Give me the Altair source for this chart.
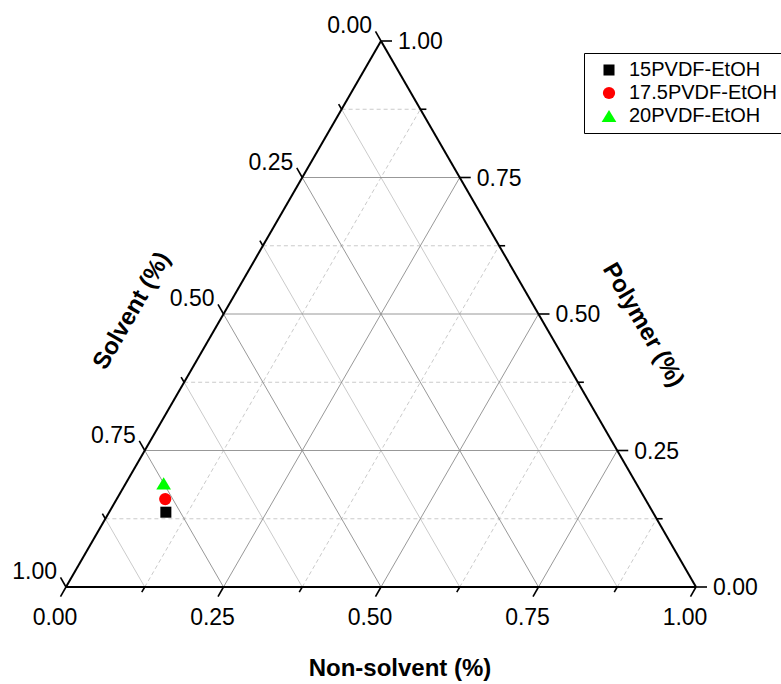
import altair as alt
import numpy as np
import pandas as pd

# ---------------- data ----------------
series = ["15PVDF-EtOH", "17.5PVDF-EtOH", "20PVDF-EtOH"]
polymer = [0.137, 0.161, 0.190]
non_solvent = [0.090, 0.077, 0.060]
solvent = [round(1 - p - n, 3) for p, n in zip(polymer, non_solvent)]

colors = ["#000000", "#ff0000", "#00ff00"]
shapes = ["M-0.9,-0.9L0.9,-0.9L0.9,0.9L-0.9,0.9Z", "circle", "M0,-1L1.2,1L-1.2,1Z"]

major_ticks = [0.0, 0.25, 0.5, 0.75, 1.0]
minor_ticks = [0.125, 0.375, 0.625, 0.875]
tick_labels = ["0.00", "0.25", "0.50", "0.75", "1.00"]
axis_titles = ["Non-solvent (%)", "Solvent (%)", "Polymer (%)"]

# ---------------- geometry helpers ----------------
H = np.sqrt(3) / 2
W_PX = 630
HT_PX = 546
U = 1.0 / W_PX  # data units per pixel
FONT = "Liberation Sans"

XS = alt.Scale(domain=[0, 1], nice=False, zero=False)
YS = alt.Scale(domain=[0, H], nice=False, zero=False)


def enc_xy(extra2=True):
    d = dict(x=alt.X("x:Q", scale=XS, axis=None), y=alt.Y("y:Q", scale=YS, axis=None))
    if extra2:
        d["x2"] = alt.X2("x2:Q")
        d["y2"] = alt.Y2("y2:Q")
    return d


# grid lines
grid_rows = []
for v in major_ticks[1:-1] + minor_ticks:
    kind = "major" if v in major_ticks else "minor"
    grid_rows.append(dict(x=v / 2, y=v * H, x2=1 - v / 2, y2=v * H, ax="p", kind=kind))
    grid_rows.append(dict(x=v, y=0, x2=v + (1 - v) / 2, y2=(1 - v) * H, ax="n", kind=kind))
    grid_rows.append(dict(x=(1 - v) / 2, y=(1 - v) * H, x2=1 - v, y2=0, ax="s", kind=kind))
grid = pd.DataFrame(grid_rows)

g_major = alt.Chart(grid[grid.kind == "major"]).mark_rule(color="#8c8c8c", strokeWidth=0.9).encode(**enc_xy())
g_minor_s = alt.Chart(grid[(grid.kind == "minor") & (grid.ax == "s")]).mark_rule(
    color="#c4c4c4", strokeWidth=0.9).encode(**enc_xy())
g_minor_d = alt.Chart(grid[(grid.kind == "minor") & (grid.ax != "s")]).mark_rule(
    color="#c4c4c4", strokeWidth=0.9, strokeDash=[4, 3]).encode(**enc_xy())

# outline
outline = pd.DataFrame([
    dict(x=0, y=0, x2=1, y2=0),
    dict(x=0, y=0, x2=0.5, y2=H),
    dict(x=1, y=0, x2=0.5, y2=H),
])
g_outline = alt.Chart(outline).mark_rule(color="black", strokeWidth=2).encode(**enc_xy())

# ticks
tick_rows = []
for v in major_ticks + minor_ticks:
    L = (11 if v in major_ticks else 6) * U
    # bottom axis (non-solvent), ticks point down-left
    bx, by = v, 0.0
    tick_rows.append(dict(x=bx, y=by, x2=bx - 0.5 * L, y2=by - H * L))
    # left axis (solvent), ticks point up-left
    lx, ly = (1 - v) / 2, (1 - v) * H
    tick_rows.append(dict(x=lx, y=ly, x2=lx - 0.5 * L, y2=ly + H * L))
    # right axis (polymer), ticks point right
    rx, ry = 1 - v / 2, v * H
    tick_rows.append(dict(x=rx, y=ry, x2=rx + L, y2=ry))
g_ticks = alt.Chart(pd.DataFrame(tick_rows)).mark_rule(color="black", strokeWidth=1.6).encode(**enc_xy())

# tick labels
bottom_lab = pd.DataFrame(dict(x=major_ticks, y=[0.0] * 5, t=tick_labels))
left_lab = pd.DataFrame(dict(x=[(1 - v) / 2 for v in major_ticks],
                             y=[(1 - v) * H for v in major_ticks], t=tick_labels))
right_lab = pd.DataFrame(dict(x=[1 - v / 2 for v in major_ticks],
                              y=[v * H for v in major_ticks], t=tick_labels))

lab_style = dict(font=FONT, fontSize=23, color="black")
t_bottom = alt.Chart(bottom_lab).mark_text(align="center", baseline="alphabetic", dx=-11, dy=38,
                                           **lab_style).encode(text="t:N", **enc_xy(False))
t_left = alt.Chart(left_lab).mark_text(align="right", baseline="alphabetic", dx=-9, dy=-8,
                                       **lab_style).encode(text="t:N", **enc_xy(False))
t_right = alt.Chart(right_lab).mark_text(align="left", baseline="middle", dx=17, dy=1,
                                         **lab_style).encode(text="t:N", **enc_xy(False))


# axis titles (anchored at edge midpoints, offsets given in screen pixels)
def rotated_offsets(sx, sy, angle_deg):
    a = np.deg2rad(angle_deg)
    ux, uy = np.cos(a), np.sin(a)
    vx, vy = -np.sin(a), np.cos(a)
    return float(sx * ux + sy * uy), float(sx * vx + sy * vy)


title_style = dict(font=FONT, fontSize=24, fontWeight="bold", color="black",
                   align="center", baseline="middle")
tb = pd.DataFrame(dict(x=[0.5], y=[0.0], t=[axis_titles[0]]))
ts = pd.DataFrame(dict(x=[0.25], y=[H / 2], t=[axis_titles[1]]))
tp = pd.DataFrame(dict(x=[0.75], y=[H / 2], t=[axis_titles[2]]))
dxs, dys = rotated_offsets(-91.5, -3, -60)
dxp, dyp = rotated_offsets(104.5, 11, 60)
tt_b = alt.Chart(tb).mark_text(dx=19, dy=82, **title_style).encode(text="t:N", **enc_xy(False))
tt_s = alt.Chart(ts).mark_text(angle=300, dx=dxs, dy=dys, **title_style).encode(text="t:N", **enc_xy(False))
tt_p = alt.Chart(tp).mark_text(angle=60, dx=dxp, dy=dyp, **title_style).encode(text="t:N", **enc_xy(False))

# data points
pts = pd.DataFrame(dict(series=series, polymer=polymer, non_solvent=non_solvent, solvent=solvent))
leg = alt.Legend(title=None, orient="none", legendX=518, legendY=12, strokeColor="black",
                 fillColor="white", padding=7, labelFont=FONT, labelFontSize=20, labelColor="black",
                 rowPadding=3, symbolOffset=8, labelOffset=10, symbolStrokeWidth=0, symbolSize=150)
points = alt.Chart(pts).transform_calculate(
    x="datum.non_solvent + datum.polymer / 2",
    y=f"datum.polymer * {H}",
).mark_point(filled=True, opacity=1, size=150).encode(
    x=alt.X("x:Q", scale=XS, axis=None),
    y=alt.Y("y:Q", scale=YS, axis=None),
    color=alt.Color("series:N", scale=alt.Scale(domain=series, range=colors), legend=leg),
    shape=alt.Shape("series:N", scale=alt.Scale(domain=series, range=shapes), legend=leg),
)

chart = alt.layer(
    g_minor_s, g_minor_d, g_major, g_outline, g_ticks,
    t_bottom, t_left, t_right, tt_b, tt_s, tt_p, points,
).properties(
    width=W_PX, height=HT_PX,
    autosize=alt.AutoSizeParams(type="none"),
    padding={"left": 66, "top": 41, "right": 85, "bottom": 97},
    background="white",
).configure_view(stroke=None)

chart.save("out.html", embed_options={"renderer": "svg", "actions": False})
